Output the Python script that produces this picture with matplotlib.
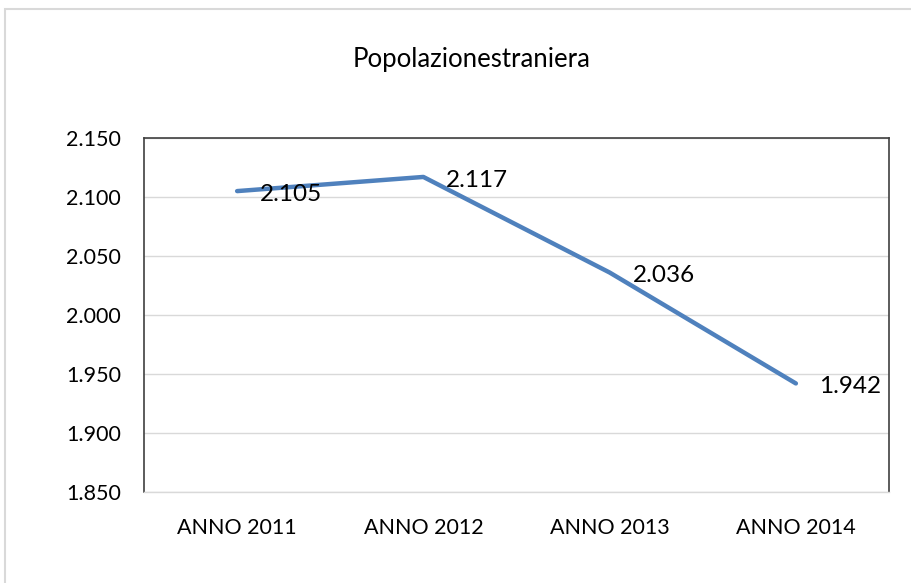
import matplotlib
matplotlib.use("Agg")
import matplotlib.pyplot as plt
from matplotlib.patches import Rectangle
from matplotlib.ticker import FuncFormatter

categories = ["ANNO 2011", "ANNO 2012", "ANNO 2013", "ANNO 2014"]
values = [2105, 2117, 2036, 1942]
yticks = [1850, 1900, 1950, 2000, 2050, 2100, 2150]
title = "Popolazionestraniera"

def fmt(v):
    return f"{int(v):,}".replace(",", ".")

plt.rcParams['font.family'] = ['Lato', 'DejaVu Sans']

W, H = 912, 583
fig = plt.figure(figsize=(W / 100, H / 100), dpi=100)
fig.patch.set_facecolor("white")

# outer chart border
fig.add_artist(Rectangle((5 / W, -0.05), 1.1, (H - 9) / H + 0.05, transform=fig.transFigure,
                         fill=False, edgecolor="#D9D9D9", linewidth=1.5))

left, right, top, bottom = 144, 889, 138, 492
ax = fig.add_axes([left / W, 1 - bottom / H, (right - left) / W, (bottom - top) / H])

x = list(range(len(categories)))
ax.plot(x, values, color="#4F81BD", linewidth=3.2, solid_capstyle="round", zorder=3)
for xi, v in zip(x, values):
    ax.annotate(fmt(v), (xi, v), xytext=(16.5, -2.5), textcoords="offset points",
                ha="left", va="center", fontsize=17.5, color="#000000")

ax.set_xlim(-0.5, len(categories) - 0.5)
ax.set_ylim(yticks[0], yticks[-1])
ax.set_yticks(yticks)
ax.yaxis.set_major_formatter(FuncFormatter(lambda v, p: fmt(v)))
ax.set_xticks(x)
ax.set_xticklabels(categories)
ax.tick_params(axis="both", length=0, labelsize=15.5, colors="#000000")
ax.tick_params(axis="y", pad=16.5)
ax.tick_params(axis="x", pad=18.5)
ax.grid(axis="y", color="#D9D9D9", linewidth=1)
ax.set_axisbelow(True)
for s in ["left", "top", "right"]:
    ax.spines[s].set_color("#404040")
    ax.spines[s].set_linewidth(1.2)
ax.spines["bottom"].set_color("#D9D9D9")
ax.spines["bottom"].set_linewidth(1)

fig.text(472 / W, 1 - 60 / H, title, ha="center", va="center", fontsize=18.5, color="#000000")

fig.savefig("out.png", dpi=100)
